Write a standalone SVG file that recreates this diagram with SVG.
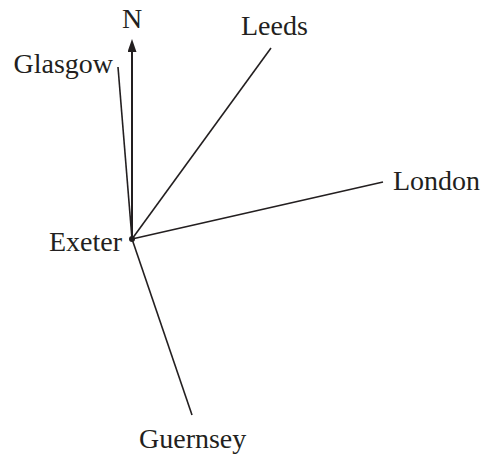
<svg xmlns="http://www.w3.org/2000/svg" width="485" height="462" viewBox="0 0 485 462">
<style>
text{font-family:"Liberation Serif","Times New Roman",serif;font-size:28px;fill:#231f20}
.c line{stroke:#231f20;stroke-width:1.6}
</style>
<defs>
<marker id="ah" markerWidth="13" markerHeight="9" refX="1" refY="4.5" orient="auto" markerUnits="userSpaceOnUse" viewBox="0 0 13 9">
<path d="M0,0 L13,4.5 L0,9 Z" fill="#231f20"/>
</marker>
</defs>
<rect width="485" height="462" fill="#fff"/>
<g class="c" id="connectors">
<line x1="132" y1="239" x2="132" y2="51" marker-end="url(#ah)" style="stroke-width:2"/>
<line x1="132" y1="239" x2="118" y2="67"/>
<line x1="132" y1="239" x2="271" y2="48"/>
<line x1="132" y1="239" x2="383" y2="182"/>
<line x1="132" y1="239" x2="192" y2="415"/>
</g>
<g id="exeter"><circle cx="132" cy="239" r="3" fill="#231f20"/><text x="122" y="251" text-anchor="end">Exeter</text></g>
<g id="north"><text x="132" y="28" text-anchor="middle">N</text></g>
<g id="glasgow"><text x="113" y="73" text-anchor="end">Glasgow</text></g>
<g id="leeds"><text x="241" y="35">Leeds</text></g>
<g id="london"><text x="393" y="190">London</text></g>
<g id="guernsey"><text x="139" y="448">Guernsey</text></g>
</svg>
